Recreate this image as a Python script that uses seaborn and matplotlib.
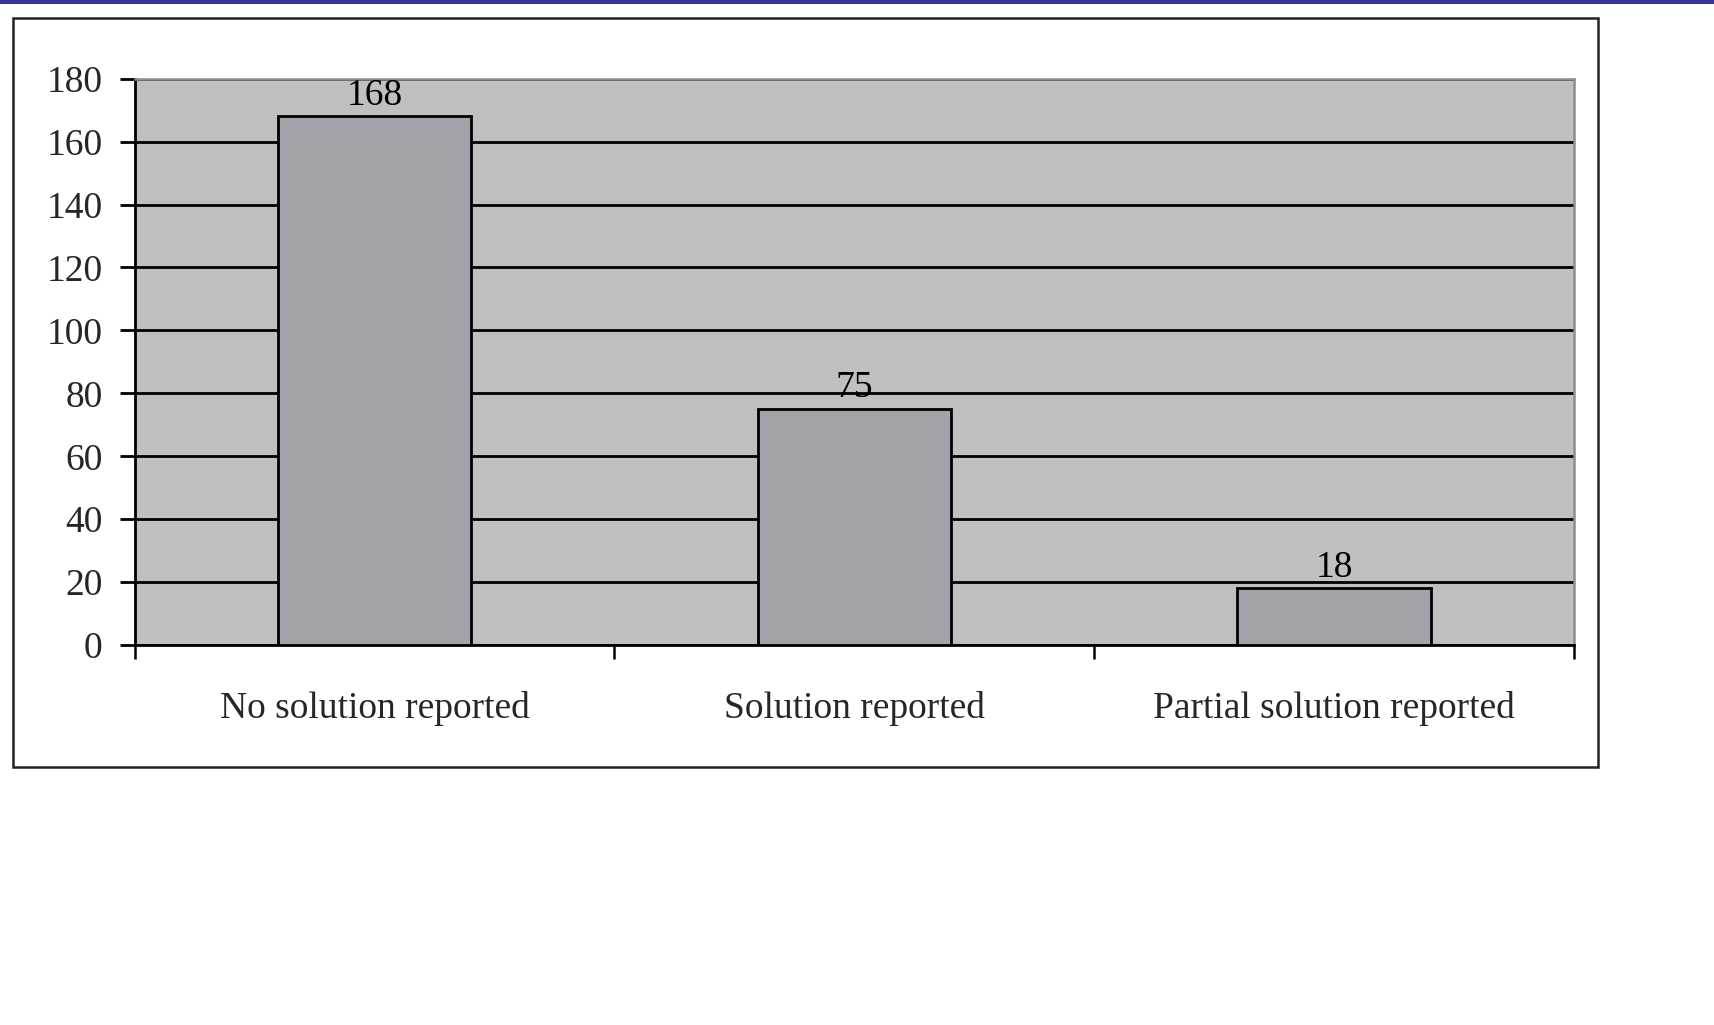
import matplotlib
matplotlib.use("Agg")
import matplotlib.pyplot as plt
from matplotlib.patches import Rectangle
import pandas as pd
import seaborn as sns

categories = ["No solution reported", "Solution reported", "Partial solution reported"]
counts = [168, 75, 18]
y_ticks = [0, 20, 40, 60, 80, 100, 120, 140, 160, 180]

BAR_COLOR = "#a3a2a8"
PLOT_BG = "#c0c0c0"

sns.set_style("white")
plt.rcParams["font.family"] = ["Liberation Serif", "DejaVu Serif"]

df = pd.DataFrame({"outcome": categories, "count": counts})

fig = plt.figure(figsize=(17.14, 10.25), dpi=100)
fig.patch.set_facecolor("white")
ax = fig.add_axes([0.0785, 0.3707, 0.8398, 0.5525])
ax.set_facecolor(PLOT_BG)

sns.barplot(data=df, x="outcome", y="count", color=BAR_COLOR, width=0.403,
            edgecolor="black", linewidth=2, saturation=1, ax=ax, zorder=3)

# value labels over bars
for i, v in enumerate(counts):
    ax.annotate(str(v), (i, v), xytext=(0, 15), textcoords="offset points",
                ha="center", va="center", fontsize=27, color="black")

ax.set_ylim(0, 180)
ax.set_xlim(-0.5, len(categories) - 0.5)
ax.set_yticks(y_ticks)
ax.yaxis.grid(True, color="black", linewidth=2.0, zorder=1)
ax.set_axisbelow(True)

# category labels centered, tick marks on boundaries
ax.set_xticks(range(len(categories)))
ax.set_xticklabels(categories)
ax.set_xticks([i - 0.5 for i in range(len(categories) + 1)], minor=True)
ax.tick_params(axis="x", which="major", length=0, pad=33, labelsize=27)
ax.tick_params(axis="x", which="minor", length=10, width=1.8, color="black",
               direction="out", bottom=True)
ax.tick_params(axis="y", length=11, width=2.0, color="black", direction="out",
               pad=12, labelsize=27, left=True)
ax.set_xlabel("")
ax.set_ylabel("")

for side in ["left", "bottom"]:
    ax.spines[side].set_color("black")
    ax.spines[side].set_linewidth(2.0)
for side in ["top", "right"]:
    ax.spines[side].set_color("#8c8c8c")
    ax.spines[side].set_linewidth(1.8)

# outer chart frame and top band
fig.patches.append(Rectangle((13 / 1714, 1 - 767 / 1025), (1598 - 13) / 1714,
                             (767 - 18) / 1025, transform=fig.transFigure,
                             fill=False, edgecolor="#222222", linewidth=1.8))
fig.patches.append(Rectangle((0, 1 - 4 / 1025), 1, 4 / 1025, transform=fig.transFigure,
                             facecolor="#333399", edgecolor="none"))

fig.savefig("out.png", dpi=100, facecolor="white")
